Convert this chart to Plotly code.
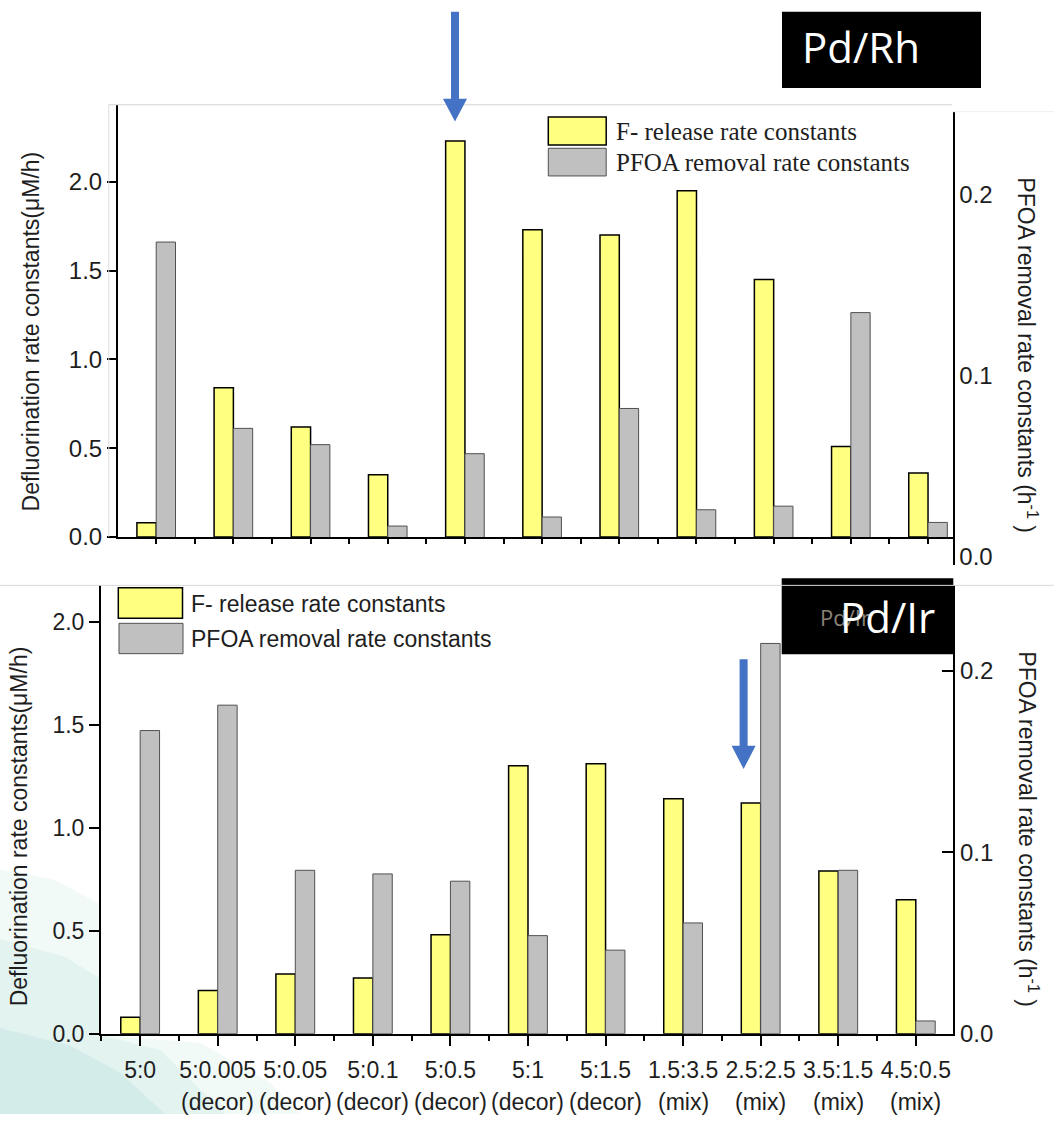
import plotly.graph_objects as go

# Pd/X ratio (first label line) and preparation type (second label line)
ratios = ["5:0", "5:0.005", "5:0.05", "5:0.1", "5:0.5", "5:1", "5:1.5",
          "1.5:3.5", "2.5:2.5", "3.5:1.5", "4.5:0.5"]
prep = ["", "(decor)", "(decor)", "(decor)", "(decor)", "(decor)", "(decor)",
        "(mix)", "(mix)", "(mix)", "(mix)"]

# Pd/Rh catalysts
rh_f_release = [0.08, 0.84, 0.62, 0.35, 2.23, 1.73, 1.70, 1.95, 1.45, 0.51, 0.36]      # uM/h
rh_pfoa_removal = [0.174, 0.071, 0.062, 0.017, 0.057, 0.022, 0.082, 0.026, 0.028, 0.135, 0.019]  # 1/h

# Pd/Ir catalysts
ir_f_release = [0.08, 0.21, 0.29, 0.27, 0.48, 1.30, 1.31, 1.14, 1.12, 0.79, 0.65]       # uM/h
ir_pfoa_removal = [0.167, 0.181, 0.090, 0.088, 0.084, 0.054, 0.046, 0.061, 0.215, 0.090, 0.007]  # 1/h

series_names = ["F- release rate constants", "PFOA removal rate constants"]
left_title = "Defluorination rate constants(\u03bcM/h)"
right_title = "PFOA removal rate constants (h<sup>-1</sup> )"
left_ticks = [0.0, 0.5, 1.0, 1.5, 2.0]
right_ticks = [0.0, 0.1, 0.2]

W, H = 1054, 1127
YELLOW, GREY, BLUE = "#FFFF80", "#C0C0C0", "#4472C4"
SANS = "Liberation Sans, Arial, sans-serif"
SERIF = "Liberation Serif, Times New Roman, serif"
BOXFONT = "Open Sans, Noto Sans, sans-serif"
INK = "#1e1e1e"


def px(x):
    return x / W


def py(y):
    return 1 - y / H


idx = list(range(len(ratios)))
fig = go.Figure()

# ---- upper panel: Pd/Rh ----
fig.add_trace(go.Bar(x=idx, y=rh_f_release, xaxis="x", yaxis="y", width=0.25, offset=-0.25,
                     marker=dict(color=YELLOW, line=dict(color="black", width=1.5))))
fig.add_trace(go.Bar(x=idx, y=rh_pfoa_removal, xaxis="x", yaxis="y3", width=0.25, offset=0,
                     marker=dict(color=GREY, line=dict(color="#505050", width=1))))
fig.add_trace(go.Scatter(x=[], y=[], xaxis="x3", yaxis="y2", hoverinfo="skip"))

# ---- lower panel: Pd/Ir ----
fig.add_trace(go.Bar(x=idx, y=ir_f_release, xaxis="x2", yaxis="y4", width=0.25, offset=-0.25,
                     marker=dict(color=YELLOW, line=dict(color="black", width=1.5))))
fig.add_trace(go.Bar(x=idx, y=ir_pfoa_removal, xaxis="x2", yaxis="y5", width=0.25, offset=0,
                     marker=dict(color=GREY, line=dict(color="#505050", width=1))))

minor_halves = dict(tickvals=[i + 0.5 for i in range(-1, len(ratios))], ticks="outside",
                    tickcolor="black", tickwidth=1.5, showgrid=False)

# upper panel geometry (pixels)
top_x0, top_x1, top_y0, top_y1 = 118, 952.5, 543.3, 106
top_left_ppu = 179.7            # pixels per uM/h
top_right_zero, top_right_ppu = 563.3, 1830.0   # right scale is shifted below the x axis

# lower panel geometry (pixels)
bot_x0, bot_x1, bot_y0, bot_y1 = 101, 953.2, 1045.7, 592.2
bot_left_ppu, bot_right_ppu = 208.4, 1836.0

fig.update_layout(
    width=W, height=H, margin=dict(l=0, r=0, t=0, b=0),
    paper_bgcolor="white", plot_bgcolor="rgba(0,0,0,0)", showlegend=False,
    font=dict(family=SANS, color=INK),
    xaxis=dict(domain=[px(top_x0), px(top_x1)], range=[-0.495, 10.317], anchor="y",
               showline=True, linecolor="black", linewidth=2, ticks="outside", ticklen=5,
               tickwidth=1.5, tickcolor="black", tickvals=idx, showticklabels=False,
               showgrid=False, zeroline=False, minor=dict(minor_halves, ticklen=5)),
    yaxis=dict(domain=[py(top_y0), py(top_y1)], range=[0, (top_y0 - top_y1) / top_left_ppu],
               anchor="x", showline=True, linecolor="black", linewidth=2, ticks="outside",
               ticklen=9, tickwidth=1.5, tickcolor="black", tickvals=left_ticks,
               tickformat=".1f", tickfont=dict(size=24), showgrid=False, zeroline=False),
    yaxis3=dict(overlaying="y", anchor="x", visible=False,
                range=[(top_right_zero - top_y0) / top_right_ppu,
                       (top_right_zero - top_y1) / top_right_ppu]),
    xaxis3=dict(domain=[px(top_x0), px(top_x1)], anchor="y2", visible=False, range=[0, 1]),
    yaxis2=dict(domain=[py(572), py(113)], anchor="x3", side="right",
                range=[(top_right_zero - 572) / top_right_ppu, (top_right_zero - 113) / top_right_ppu],
                showline=True, linecolor="black", linewidth=2, ticks="", tickvals=right_ticks,
                tickformat=".1f", tickfont=dict(size=24), showgrid=False, zeroline=False),
    xaxis2=dict(domain=[px(bot_x0), px(bot_x1)], range=[-0.505, 10.482], anchor="y4",
                showline=True, linecolor="black", linewidth=2, ticks="outside", ticklen=10,
                tickwidth=2, tickcolor="black", tickvals=idx, ticktext=ratios,
                tickfont=dict(size=23), ticklabelstandoff=5, showgrid=False, zeroline=False,
                minor=dict(minor_halves, ticklen=5)),
    yaxis4=dict(domain=[py(bot_y0), py(bot_y1)], range=[0, (bot_y0 - bot_y1) / bot_left_ppu],
                anchor="x2", showline=True, linecolor="black", linewidth=2, ticks="outside",
                ticklen=10, tickwidth=1.5, tickcolor="black", tickvals=left_ticks,
                tickformat=".1f", tickfont=dict(size=23), showgrid=False, zeroline=False),
    yaxis5=dict(overlaying="y4", anchor="x2", side="right",
                range=[0, (bot_y0 - bot_y1) / bot_right_ppu], showline=True, linecolor="black",
                linewidth=2, ticks="inside", ticklen=11, tickwidth=1.5, tickcolor="black",
                tickvals=right_ticks, tickformat=".1f", tickfont=dict(size=24),
                showgrid=False, zeroline=False),
)


def rect(x0, y0, x1, y1, fill, line_color=None, line_width=0, layer="above"):
    fig.add_shape(type="rect", xref="paper", yref="paper", x0=px(x0), x1=px(x1),
                  y0=py(y1), y1=py(y0), fillcolor=fill, layer=layer,
                  line=dict(color=line_color or fill, width=line_width))


def hline(x0, x1, y, color):
    fig.add_shape(type="line", xref="paper", yref="paper", x0=px(x0), x1=px(x1),
                  y0=py(y), y1=py(y), line=dict(color=color, width=1), layer="above")


def vline(x, y0, y1, color):
    fig.add_shape(type="line", xref="paper", yref="paper", x0=px(x), x1=px(x),
                  y0=py(y0), y1=py(y1), line=dict(color=color, width=1), layer="above")


def poly(pts, fill, layer="below"):
    path = "M" + " L".join(f"{px(x):.5f},{py(y):.5f}" for x, y in pts) + " Z"
    fig.add_shape(type="path", xref="paper", yref="paper", path=path, layer=layer,
                  fillcolor=fill, line=dict(width=0))


def down_arrow(cx, y_top, y_head, y_tip, shaft_w=8, head_w=24):
    pts = [(cx - shaft_w / 2, y_top), (cx + shaft_w / 2, y_top), (cx + shaft_w / 2, y_head),
           (cx + head_w / 2, y_head), (cx, y_tip), (cx - head_w / 2, y_head),
           (cx - shaft_w / 2, y_head)]
    poly(pts, BLUE, layer="above")


def text(x, y, s, size, family=SANS, color=INK, xanchor="left", angle=0, xref="paper"):
    fig.add_annotation(x=x if xref != "paper" else px(x), y=py(y), xref=xref, yref="paper",
                       text=s, showarrow=False, xanchor=xanchor, yanchor="middle",
                       textangle=angle, font=dict(size=size, family=family, color=color))


# soft slide background in the lower-left corner (kept outside the plot area)
poly([(0, 880), (55, 890), (100, 915), (100, 1047), (200, 1055), (270, 1095), (300, 1127),
      (0, 1127)], "rgba(190,228,218,0.20)")
poly([(0, 950), (65, 968), (100, 990), (100, 1047), (160, 1062), (225, 1127), (0, 1127)],
     "rgba(165,214,210,0.20)")
poly([(0, 1040), (70, 1058), (120, 1085), (165, 1127), (0, 1127)],
     "rgba(145,205,210,0.18)")

# frame edges of the two panels
hline(108.8, 952, 106, "#d4d4d4")
vline(108.8, 106, 543, "#dcdcdc")
hline(953, W, 113, "#eeeeee")

# upper legend
rect(548.3, 118.3, 606.2, 146.7, YELLOW, "black", 1.5)
rect(548.3, 150, 606.2, 178, GREY, "#505050", 1)
text(613.7, 133, series_names[0], 25, SERIF)
text(613.7, 164, series_names[1], 25, SERIF)

# lower legend
rect(118.3, 594.7, 182.5, 625.4, YELLOW, "black", 1.5)
rect(119, 630.6, 183, 661.3, GREY, "#505050", 1)
text(189.3, 611, series_names[0], 23)
text(189.3, 646, series_names[1], 23)

# axis titles
text(31.3, 335, left_title, 23, xanchor="center", angle=-90)
text(1027.5, 359, right_title, 23, xanchor="center", angle=90)
text(18.5, 836.5, left_title, 23, xanchor="center", angle=-90)
text(1028, 839, right_title, 23, xanchor="center", angle=90)

# second line of the category labels
for i, p in enumerate(prep):
    if p:
        text(i, 1115, p, 23, xanchor="center", xref="x2")

# catalyst tags
rect(782, 12, 981, 89, "black")
text(800, 47, "Pd/Rh", 42, BOXFONT, "white")
rect(781.7, 585, 953.3, 662, "black")
hline(0, W, 592.2, "#d8d8d8")
text(818, 624, "Pd/Ir", 22, BOXFONT, "#8a8276")
text(838, 624, "Pd/Ir", 42, BOXFONT, "white")

# highlighted samples
down_arrow(455, 12, 100, 123)
down_arrow(743.6, 667, 754.5, 778)

fig.write_html("out.html")
